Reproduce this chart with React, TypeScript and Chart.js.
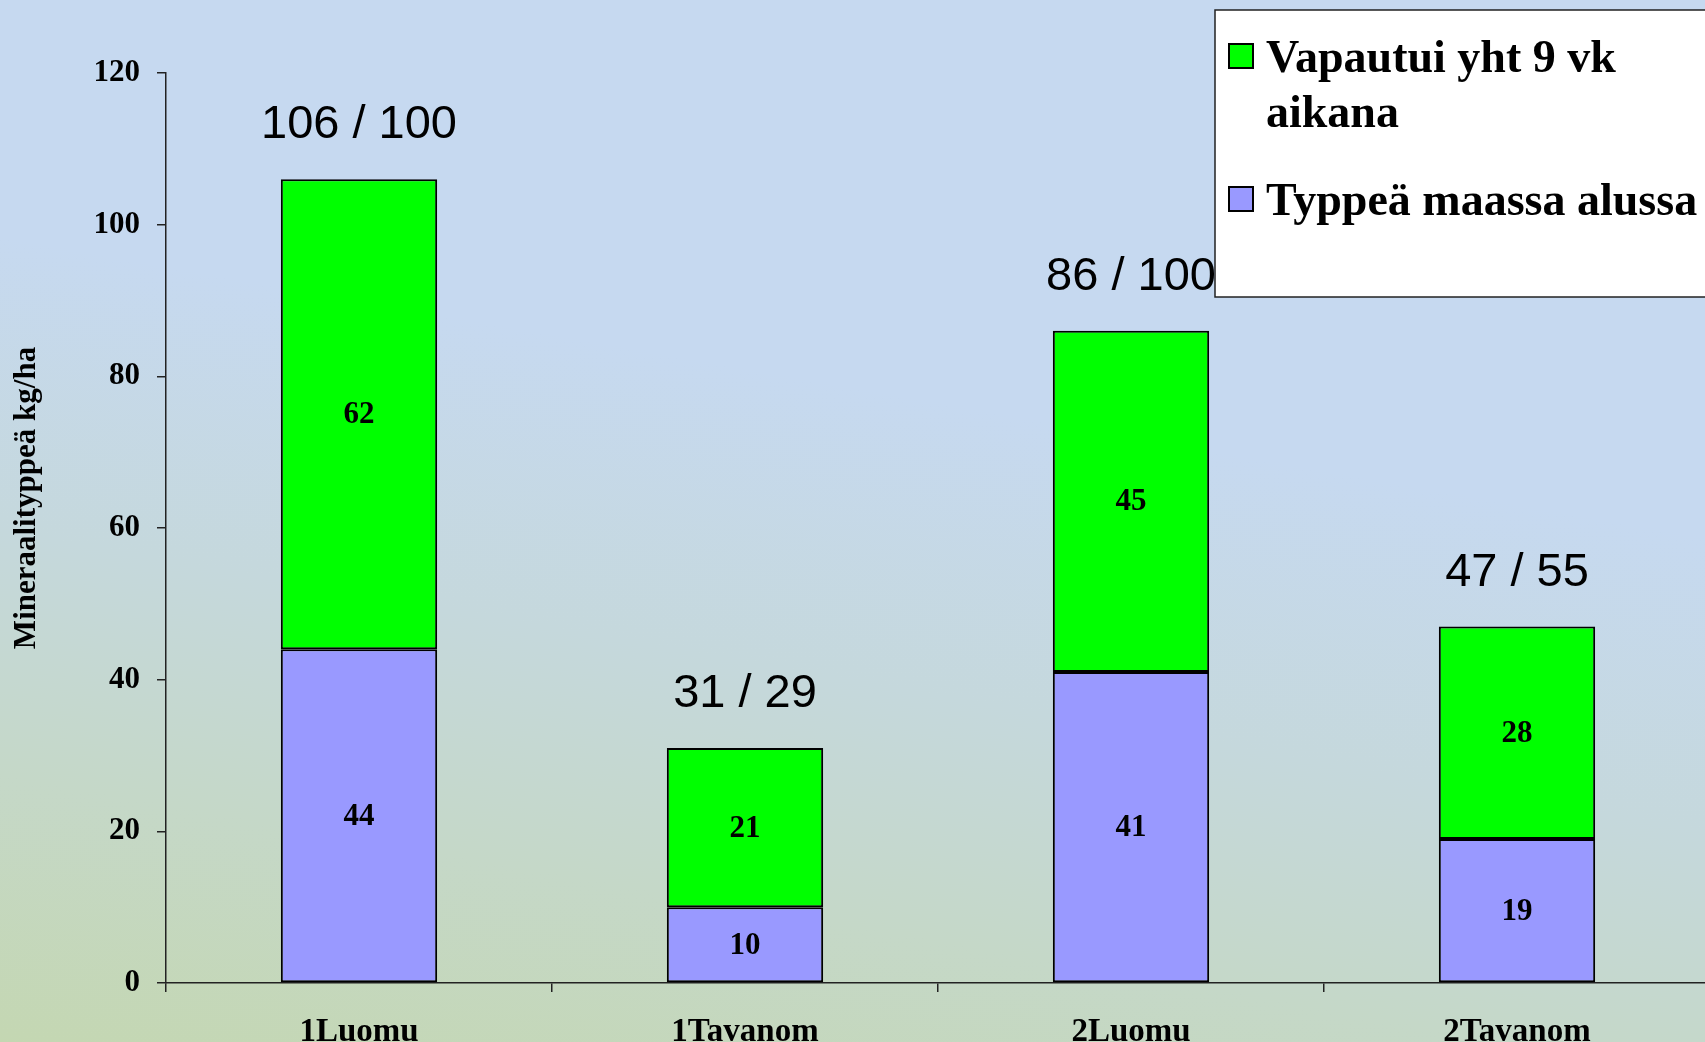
import React, { useEffect, useRef } from 'react';
import { Chart, registerables } from 'chart.js';

Chart.register(...registerables);

// ---- data ----
const categories = ['1Luomu', '1Tavanom', '2Luomu', '2Tavanom'];
const typpeaAlussa = [44, 10, 41, 19];
const vapautui = [62, 21, 45, 28];
const vertailu = [100, 29, 100, 55];
const seriesAlussa = 'Typpeä maassa alussa';
const seriesVapautui = 'Vapautui yht 9 vk aikana';
const yTitle = 'Mineraalityppeä kg/ha';
const yMin = 0;
const yMax = 120;
const yStep = 20;

const SERIF = "'Liberation Serif', 'Times New Roman', serif";
const SANS = "'Liberation Sans', Arial, sans-serif";
const GREEN = '#00ff00';
const PURPLE = '#9999ff';

const segmentLabels = {
  id: 'segmentLabels',
  afterDatasetsDraw(chart: any) {
    const ctx = chart.ctx;
    ctx.save();
    ctx.font = `bold 31px ${SERIF}`;
    ctx.fillStyle = '#000';
    ctx.textAlign = 'center';
    ctx.textBaseline = 'middle';
    chart.data.datasets.forEach((ds: any, i: number) => {
      const meta = chart.getDatasetMeta(i);
      meta.data.forEach((bar: any, j: number) => {
        const { x, y, base } = bar.getProps(['x', 'y', 'base'], true);
        ctx.fillText(String(ds.data[j]), x, (y + base) / 2 + 1);
      });
    });
    ctx.restore();
  },
};

const totalLabels = {
  id: 'totalLabels',
  afterDatasetsDraw(chart: any) {
    const ctx = chart.ctx;
    const last = chart.data.datasets.length - 1;
    const meta = chart.getDatasetMeta(last);
    ctx.save();
    ctx.font = `47px ${SANS}`;
    ctx.fillStyle = '#000';
    ctx.textAlign = 'center';
    ctx.textBaseline = 'alphabetic';
    meta.data.forEach((bar: any, j: number) => {
      const { x, y } = bar.getProps(['x', 'y'], true);
      const total = typpeaAlussa[j] + vapautui[j];
      ctx.fillText(`${total} / ${vertailu[j]}`, x, y - 41);
    });
    ctx.restore();
  },
};

const yTitlePlugin = {
  id: 'yTitlePlugin',
  afterDraw(chart: any) {
    const ctx = chart.ctx;
    const area = chart.chartArea;
    ctx.save();
    ctx.translate(27, (area.top + area.bottom) / 2 - 30);
    ctx.rotate(-Math.PI / 2);
    ctx.font = `bold 31px ${SERIF}`;
    ctx.fillStyle = '#000';
    ctx.textAlign = 'center';
    ctx.textBaseline = 'middle';
    ctx.fillText(yTitle, 0, 0);
    ctx.restore();
  },
};

function wrapWords(ctx: CanvasRenderingContext2D, text: string, maxW: number): string[] {
  const words = text.split(' ');
  const lines: string[] = [];
  let cur = '';
  for (const w of words) {
    const test = cur ? cur + ' ' + w : w;
    if (cur && ctx.measureText(test).width > maxW) {
      lines.push(cur);
      cur = w;
    } else {
      cur = test;
    }
  }
  if (cur) lines.push(cur);
  return lines;
}

const boxLegend = {
  id: 'boxLegend',
  afterDraw(chart: any) {
    const ctx = chart.ctx;
    const bx = 1215;
    const by = 10;
    const bw = 520;
    const bh = 287;
    ctx.save();
    ctx.fillStyle = '#ffffff';
    ctx.fillRect(bx, by, bw, bh);
    ctx.strokeStyle = '#222';
    ctx.lineWidth = 1.5;
    ctx.strokeRect(bx, by, bw, bh);
    ctx.font = `bold 46px ${SERIF}`;
    ctx.textAlign = 'left';
    ctx.textBaseline = 'alphabetic';
    const items = [...chart.data.datasets].reverse();
    let baseline = 72;
    items.forEach((ds: any) => {
      const lines = wrapWords(ctx, ds.label, 450);
      ctx.fillStyle = ds.backgroundColor;
      ctx.fillRect(1229, baseline - 28, 24, 24);
      ctx.strokeStyle = '#000';
      ctx.lineWidth = 2;
      ctx.strokeRect(1229, baseline - 28, 24, 24);
      ctx.fillStyle = '#000';
      lines.forEach((ln, k) => {
        ctx.fillText(ln, 1266, baseline + k * 55);
      });
      baseline += (lines.length - 1) * 55 + 88;
    });
    ctx.restore();
  },
};

export default function App() {
  const canvasRef = useRef<HTMLCanvasElement | null>(null);

  useEffect(() => {
    const canvas = canvasRef.current;
    if (!canvas) return;
    const chart = new Chart(canvas, {
      type: 'bar',
      data: {
        labels: categories,
        datasets: [
          {
            label: seriesAlussa,
            data: typpeaAlussa,
            backgroundColor: PURPLE,
            borderColor: '#000',
            borderWidth: 2,
            borderSkipped: false,
            categoryPercentage: 1,
            barPercentage: 0.405,
          },
          {
            label: seriesVapautui,
            data: vapautui,
            backgroundColor: GREEN,
            borderColor: '#000',
            borderWidth: 2,
            borderSkipped: false,
            categoryPercentage: 1,
            barPercentage: 0.405,
          },
        ],
      },
      options: {
        responsive: false,
        animation: false,
        devicePixelRatio: 1,
        layout: { padding: { top: 73, right: 0, bottom: 0, left: 0 } },
        plugins: {
          legend: { display: false },
          tooltip: { enabled: false },
          title: { display: false },
        },
        scales: {
          x: {
            stacked: true,
            grid: {
              offset: true,
              drawOnChartArea: false,
              drawTicks: true,
              tickLength: 9,
              color: '#222',
              lineWidth: 1.5,
            },
            border: { display: true, color: '#222', width: 1.5 },
            ticks: {
              color: '#000',
              font: { family: SERIF, size: 33, weight: 'bold' },
              padding: 21,
              maxRotation: 0,
              autoSkip: false,
            },
            afterFit: (s: any) => {
              s.height = 59;
            },
          },
          y: {
            stacked: true,
            min: yMin,
            max: yMax,
            grid: {
              drawOnChartArea: false,
              drawTicks: true,
              tickLength: 9,
              color: '#222',
              lineWidth: 1.5,
            },
            border: { display: true, color: '#222', width: 1.5 },
            ticks: {
              stepSize: yStep,
              color: '#000',
              font: { family: SERIF, size: 31, weight: 'bold' },
              padding: 17,
            },
            afterFit: (s: any) => {
              s.width = 166;
            },
          },
        },
      } as any,
      plugins: [segmentLabels, totalLabels, yTitlePlugin, boxLegend],
    });
    return () => chart.destroy();
  }, []);

  return (
    <div
      style={{
        position: 'fixed',
        left: 0,
        top: 0,
        width: 1705,
        height: 1042,
        overflow: 'hidden',
        background:
          'linear-gradient(190deg, #c6d9f0 0%, #c6d9f0 40%, #c5d8dc 62%, #c5d8c8 80%, #c4d7b2 100%)',
      }}
    >
      <canvas ref={canvasRef} width={1710} height={1042} style={{ display: 'block' }} />
    </div>
  );
}
